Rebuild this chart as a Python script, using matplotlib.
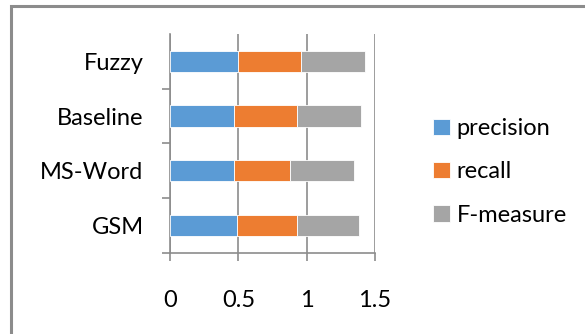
import numpy as np
import matplotlib.pyplot as plt
from matplotlib.patches import Rectangle

plt.rcParams['font.family'] = ['Lato', 'DejaVu Sans']

# данные (снизу вверх)
methods = ['GSM', 'MS-Word', 'Baseline', 'Fuzzy']
precision = [0.49, 0.47, 0.47, 0.50]
recall = [0.44, 0.41, 0.46, 0.46]
f_measure = [0.45, 0.47, 0.47, 0.47]
xticks = [0, 0.5, 1, 1.5]

colors = ['#5B9BD5', '#ED7D31', '#A5A5A5']

fig = plt.figure(figsize=(5.85, 3.34), dpi=100)
ax = fig.add_axes([170 / 585, 1 - 252.7 / 334, 205 / 585, 218.7 / 334])

y = np.arange(len(methods))
h = 0.39
left = np.zeros(len(methods))
for vals, c, name in zip([precision, recall, f_measure], colors,
                         ['precision', 'recall', 'F-measure']):
    ax.barh(y, vals, height=h, left=left, color=c, edgecolor='white',
            linewidth=0.6, label=name, zorder=3)
    left = left + np.array(vals)

ax.set_xlim(0, 1.5)
ax.set_ylim(-0.5, len(methods) - 0.5)
ax.set_xticks(xticks)
ax.set_xticklabels(['0', '0.5', '1', '1.5'], fontsize=17)
ax.xaxis.grid(True, color='#8C8C8C', linewidth=1.2, zorder=0)

ax.set_yticks(y)
ax.set_yticklabels(methods, fontsize=17)
ax.set_yticks(np.arange(len(methods)) - 0.5, minor=True)
ax.tick_params(axis='y', which='major', length=0, pad=19)
ax.tick_params(axis='y', which='minor', length=6, color='#8C8C8C', width=1.2)
ax.tick_params(axis='x', length=6, color='#8C8C8C', width=1.2, pad=21)

for s in ['top', 'right']:
    ax.spines[s].set_visible(False)
for s in ['left', 'bottom']:
    ax.spines[s].set_color('#8C8C8C')
    ax.spines[s].set_linewidth(1.2)

ax.legend(loc='center left', bbox_to_anchor=(433 / 585, 1 - 172 / 334),
          bbox_transform=fig.transFigure, frameon=False, borderpad=0,
          borderaxespad=0, fontsize=17, handlelength=0.7, handleheight=0.7,
          handletextpad=0.3, labelspacing=0.95)

# рамка вокруг рисунка
fig.patches.append(Rectangle((11 / 585, -0.1), 1.2, 1 - 6 / 334 + 0.1,
                             transform=fig.transFigure, fill=False,
                             edgecolor='#8C8C8C', linewidth=2.2))

fig.savefig('out.png', dpi=100)
